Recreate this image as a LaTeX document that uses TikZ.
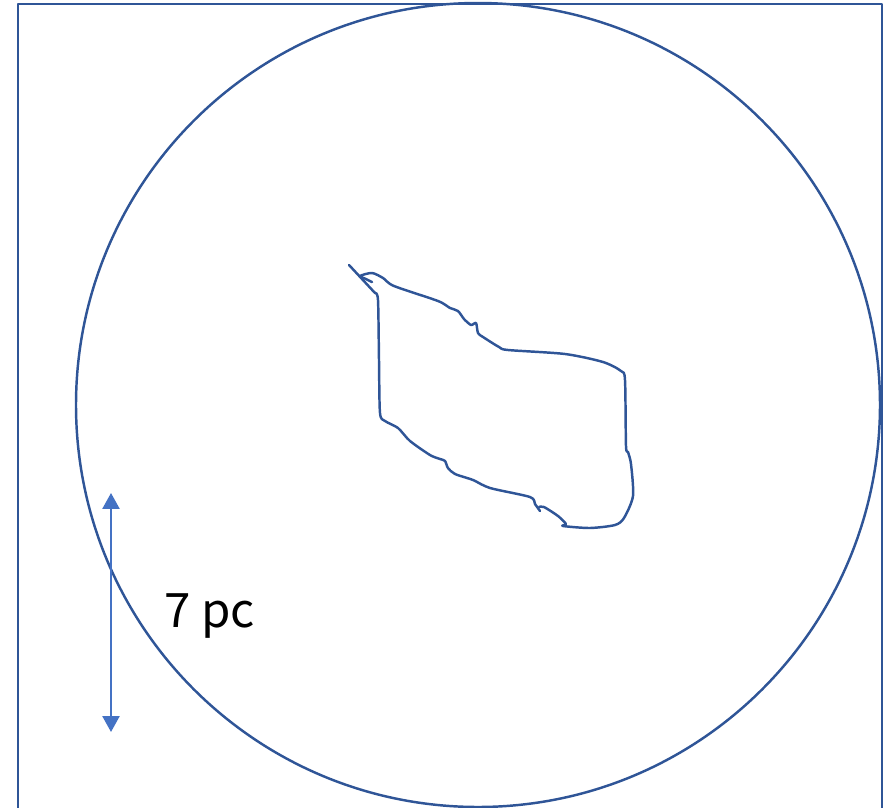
\documentclass[tikz,border=0pt]{standalone}
\usepackage{fontspec}
\setmainfont{Noto Sans CJK JP}
\usetikzlibrary{arrows.meta}
\definecolor{linedark}{HTML}{2F5597}
\definecolor{arrowblue}{HTML}{4472C4}
\tikzset{
	outline/.style={draw=linedark, line width=1.4pt, line join=round, line cap=round},
	scalebar/.style={draw=arrowblue, line width=1.4pt, {Triangle[width=0.34cm,length=0.32cm]}-{Triangle[width=0.34cm,length=0.32cm]}}
}
\begin{document}
\begin{tikzpicture}[x=0.02cm,y=-0.02cm]
		\useasboundingbox (0,0) rectangle (887,808);
		\clip (0,0) rectangle (887,808);
		
		\draw[outline] (18,830) to (18,4) to (882,4) to (882,830);
		\draw[outline] (478,405) circle[radius=402];
		
		% the patch
		\draw[outline] (349,265) to (375,293);
		\draw[outline] plot[smooth, tension=0.45] coordinates {(375,293) (378,300) (379,360) (380,413) (385,421) (398,428) (410,441) (430,455) (440,459) (445,461) (448,468) (455,474) (473,480) (490,488) (530,497) (535,504) (540,511)};
		\draw[outline] plot[smooth, tension=0.45] coordinates {(539,507) (544,507) (558,516) (566,524) (563,526) (590,528) (615,525) (624,518) (633,496) (631,464) (628,452) (626,446) (625,380) (621,371) (603,362) (565,354) (508,350) (499,347) (483,337) (478,333) (476,323) (471,325) (464,319) (458,311) (450,308) (438,301) (394,286) (383,278) (372,273) (360,276) (366,279) (372,282)};
		
		% scale bar
		\coordinate (bartop) at (111,493);
		\coordinate (barbottom) at (111,732);
		\draw[scalebar] (bartop) to (barbottom);
		\node[anchor=west, font=\fontsize{27}{31}\selectfont, inner sep=0pt] (barlabel) at (164,616) {7 pc};
	\end{tikzpicture}
\end{document}
